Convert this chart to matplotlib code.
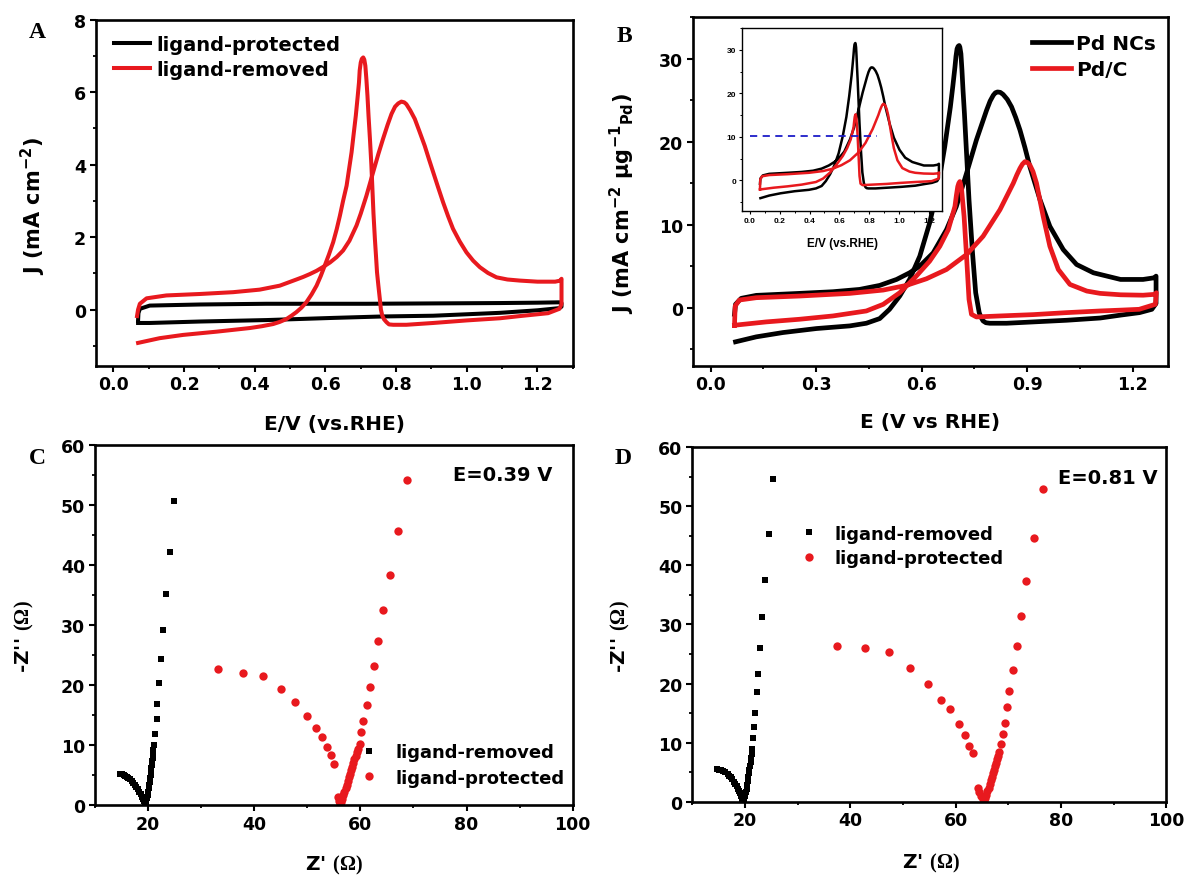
import matplotlib
matplotlib.use('Agg')
import matplotlib.pyplot as plt
from matplotlib.ticker import MultipleLocator, FormatStrFormatter


plt.rcParams['font.family'] = ['DejaVu Sans']
plt.rcParams['font.weight'] = 'bold'
plt.rcParams['axes.labelweight'] = 'bold'
plt.rcParams['mathtext.default'] = 'regular'
plt.rcParams['mathtext.fontset'] = 'custom'
plt.rcParams['mathtext.rm'] = 'Liberation Serif'
plt.rcParams['axes.linewidth'] = 1.9

RED = '#e8191e'

# ---- A: CV, ligand-protected vs ligand-removed (mA cm-2) ----
a_prot_E = [0.070, 0.071, 0.075, 0.103, 0.245, 0.433, 0.716, 0.905, 1.094, 1.200, 1.262, 1.268,
            1.268, 1.262, 1.200, 1.094, 0.905, 0.763, 0.622, 0.433, 0.245, 0.103, 0.070]
a_prot_J = [-0.30, -0.10, 0.02, 0.11, 0.14, 0.16, 0.16, 0.17, 0.18, 0.19, 0.20, 0.18,
            0.08, 0.04, -0.02, -0.09, -0.17, -0.19, -0.23, -0.29, -0.33, -0.37, -0.37]

a_rem_E = [0.067, 0.070, 0.075, 0.094, 0.150, 0.245, 0.339, 0.414, 0.471, 0.518, 0.537, 0.556,
           0.575, 0.594, 0.613, 0.632, 0.650, 0.668, 0.688, 0.700, 0.716, 0.735, 0.750, 0.763,
           0.776, 0.787, 0.797, 0.806, 0.815, 0.823, 0.829, 0.840, 0.853, 0.866, 0.881, 0.893,
           0.905, 0.918, 0.933, 0.947, 0.961, 0.980, 0.999, 1.018, 1.037, 1.060, 1.084, 1.115,
           1.150, 1.200, 1.250, 1.265, 1.268, 1.268, 1.262, 1.230, 1.150, 1.094, 0.999, 0.905,
           0.829, 0.792, 0.780, 0.773, 0.766, 0.761, 0.757, 0.754, 0.750, 0.746, 0.743, 0.740,
           0.736, 0.733, 0.730, 0.726, 0.722, 0.719, 0.716, 0.713, 0.710, 0.707, 0.703, 0.700,
           0.697, 0.695, 0.691, 0.686, 0.680, 0.674, 0.667, 0.660, 0.650, 0.641, 0.632, 0.622,
           0.610, 0.598, 0.587, 0.575, 0.561, 0.546, 0.532, 0.518, 0.504, 0.490, 0.471, 0.452,
           0.420, 0.386, 0.292, 0.197, 0.131, 0.070]
a_rem_J = [-0.18, 0.00, 0.16, 0.31, 0.39, 0.43, 0.48, 0.55, 0.66, 0.83, 0.90, 0.98,
           1.07, 1.18, 1.30, 1.45, 1.63, 1.90, 2.32, 2.65, 3.14, 3.79, 4.30, 4.71,
           5.10, 5.40, 5.60, 5.69, 5.74, 5.72, 5.67, 5.50, 5.26, 4.92, 4.52, 4.15,
           3.79, 3.40, 2.96, 2.58, 2.23, 1.88, 1.58, 1.35, 1.17, 1.01, 0.89, 0.83,
           0.80, 0.77, 0.77, 0.80, 0.85, 0.15, 0.02, -0.10, -0.18, -0.24, -0.30, -0.37,
           -0.42, -0.42, -0.41, -0.35, -0.27, -0.17, 0.00, 0.29, 0.65, 1.03, 1.50, 1.95,
           2.65, 3.33, 4.00, 4.71, 5.35, 5.90, 6.35, 6.73, 6.90, 6.96, 6.92, 6.82,
           6.60, 6.27, 5.85, 5.35, 4.85, 4.34, 3.88, 3.42, 3.00, 2.59, 2.22, 1.86,
           1.52, 1.21, 0.93, 0.66, 0.42, 0.20, 0.05, -0.07, -0.17, -0.26, -0.34, -0.40,
           -0.46, -0.51, -0.61, -0.70, -0.79, -0.92]

# ---- B: CV, Pd NCs vs Pd/C (mA cm-2 ug-1 Pd) ----
b_nc_E = [0.068, 0.071, 0.087, 0.130, 0.253, 0.348, 0.424, 0.481, 0.529, 0.566, 0.595, 0.633,
          0.671, 0.699, 0.728, 0.756, 0.785, 0.795, 0.804, 0.810, 0.816, 0.824, 0.832, 0.844,
          0.856, 0.868, 0.880, 0.894, 0.908, 0.937, 0.965, 1.003, 1.041, 1.089, 1.166, 1.230,
          1.262, 1.267, 1.267, 1.255, 1.220, 1.166, 1.108, 1.013, 0.918, 0.842, 0.794, 0.783,
          0.775, 0.769, 0.764, 0.754, 0.745, 0.735, 0.726, 0.722, 0.718, 0.715, 0.712, 0.709,
          0.707, 0.704, 0.701, 0.698, 0.695, 0.689, 0.682, 0.666, 0.647, 0.623, 0.595, 0.566,
          0.538, 0.509, 0.481, 0.443, 0.396, 0.301, 0.206, 0.130, 0.071]
b_nc_J = [-0.8, 0.4, 1.12, 1.48, 1.72, 1.92, 2.2, 2.68, 3.4, 4.2, 5.0, 6.6,
          9.4, 12.2, 16.2, 20.2, 23.8, 24.9, 25.6, 25.9, 26.0, 25.95, 25.7, 25.1,
          24.2, 22.9, 21.4, 19.3, 17.0, 13.0, 9.8, 7.0, 5.2, 4.2, 3.4, 3.4,
          3.6, 3.8, 0.5, -0.2, -0.6, -0.9, -1.25, -1.52, -1.72, -1.88, -1.88, -1.82,
          -1.6, -1.15, -0.6, 1.8, 6.6, 13.0, 20.2, 23.4, 26.2, 28.6, 30.6, 31.4,
          31.6, 31.5, 31.2, 30.3, 29.0, 26.7, 24.2, 19.4, 14.6, 10.2, 6.2, 3.4,
          1.4, -0.2, -1.32, -1.88, -2.2, -2.52, -3.0, -3.52, -4.12]

b_pdc_E = [0.068, 0.070, 0.082, 0.130, 0.253, 0.396, 0.491, 0.557, 0.614, 0.671, 0.728, 0.775,
           0.823, 0.861, 0.871, 0.880, 0.887, 0.894, 0.901, 0.908, 0.917, 0.927, 0.936, 0.946,
           0.965, 0.989, 1.022, 1.070, 1.108, 1.166, 1.230, 1.262, 1.268, 1.265, 1.219, 1.166,
           1.108, 1.013, 0.918, 0.823, 0.756, 0.742, 0.735, 0.728, 0.721, 0.714, 0.711, 0.709,
           0.706, 0.703, 0.699, 0.695, 0.676, 0.652, 0.623, 0.585, 0.538, 0.491, 0.443, 0.348,
           0.253, 0.158, 0.068]
b_pdc_J = [-2.12, 0.2, 0.92, 1.2, 1.4, 1.72, 2.12, 2.68, 3.48, 4.6, 6.4, 8.6,
           11.8, 15.0, 16.0, 16.8, 17.3, 17.6, 17.5, 17.2, 16.4, 15.0, 13.1, 11.0,
           7.4, 4.6, 2.8, 2.0, 1.72, 1.55, 1.5, 1.6, 1.8, 0.4, -0.2, -0.3,
           -0.4, -0.6, -0.84, -1.0, -1.12, -0.8, 1.0, 6.2, 11.0, 14.2, 14.9, 15.2,
           15.0, 14.6, 13.5, 12.2, 9.4, 7.4, 5.6, 3.8, 1.8, 0.4, -0.4, -1.0,
           -1.4, -1.72, -2.12]

ref_E = [0.0, 0.85]
ref_J = 10.1

# ---- C: Nyquist at E = 0.39 V ----
c_rem_x = [14.8, 15.1, 15.4, 15.7, 16.0, 16.3, 16.6, 16.9, 17.2, 17.5, 17.8, 18.1, 18.35, 18.6,
           18.8, 19.0, 19.2, 19.4, 19.55, 19.7, 19.8, 19.9, 20.0, 20.1, 20.2, 20.3, 20.4, 20.5,
           20.55, 20.65, 20.7, 20.8, 20.85, 20.95, 21.0, 21.15, 21.3, 21.6, 21.7, 22.0, 22.4, 22.8,
           23.3, 24.1, 24.8]
c_rem_y = [5.1, 5.1, 5.0, 4.9, 4.7, 4.5, 4.3, 4.0, 3.7, 3.4, 3.0, 2.6, 2.2, 1.8,
           1.4, 1.0, 0.6, 0.3, 0.1, 0.5, 1.1, 1.6, 2.2, 2.8, 3.4, 3.9, 4.5, 5.0,
           5.6, 6.2, 6.7, 7.3, 7.8, 8.5, 9.2, 10.0, 11.8, 14.4, 16.9, 20.3, 24.3, 29.2,
           35.1, 42.1, 50.6]
c_pro_x = [33.2, 37.9, 41.7, 45.0, 47.7, 49.9, 51.6, 52.8, 53.8, 54.4, 55.0, 55.8, 56.0, 56.2,
           56.4, 56.6, 56.8, 57.0, 57.2, 57.4, 57.6, 57.8, 58.0, 58.2, 58.4, 58.6, 58.85, 59.1,
           59.35, 59.6, 59.9, 60.2, 60.5, 61.2, 61.8, 62.5, 63.3, 64.3, 65.5, 67.0, 68.75]
c_pro_y = [22.6, 22.0, 21.5, 19.4, 17.1, 14.8, 12.9, 11.4, 9.7, 8.4, 6.9, 1.3, 0.7, 0.3,
           0.5, 1.0, 1.6, 2.2, 2.8, 3.4, 4.0, 4.6, 5.2, 5.8, 6.4, 7.0, 7.6, 8.2,
           8.8, 9.3, 10.2, 12.1, 14.0, 16.6, 19.6, 23.1, 27.4, 32.5, 38.4, 45.7, 54.2]

# ---- D: Nyquist at E = 0.81 V ----
d_rem_x = [14.7, 15.1, 15.5, 15.9, 16.3, 16.7, 17.0, 17.3, 17.6, 17.9, 18.2, 18.5, 18.7, 18.9,
           19.1, 19.3, 19.45, 19.6, 19.9, 20.05, 20.15, 20.3, 20.4, 20.5, 20.6, 20.75, 20.85, 20.95,
           21.05, 21.15, 21.25, 21.35, 21.5, 21.7, 21.95, 22.2, 22.5, 22.9, 23.3, 23.8, 24.5, 25.4]
d_rem_y = [5.5, 5.4, 5.3, 5.2, 5.0, 4.7, 4.4, 4.1, 3.8, 3.4, 3.0, 2.6, 2.2, 1.8,
           1.4, 0.9, 0.5, 0.2, 0.4, 1.0, 1.6, 2.2, 2.8, 3.5, 4.1, 4.8, 5.4, 6.1,
           6.7, 7.4, 8.1, 8.9, 10.7, 12.6, 15.0, 18.5, 21.7, 26.1, 31.3, 37.6, 45.3, 54.6]
d_pro_x = [37.5, 42.85, 47.4, 51.4, 54.7, 57.2, 59.0, 60.6, 61.7, 62.6, 63.3, 64.2, 64.5, 64.8,
           65.1, 65.4, 65.6, 65.8, 66.0, 66.25, 66.45, 66.65, 66.85, 67.05, 67.25, 67.45, 67.65, 67.85,
           68.05, 68.3, 68.65, 68.9, 69.4, 69.8, 70.2, 70.9, 71.6, 72.4, 73.4, 74.8, 76.5]
d_pro_y = [26.4, 26.0, 25.4, 22.6, 20.0, 17.3, 15.7, 13.1, 11.3, 9.5, 8.2, 2.3, 1.6, 1.0,
           0.4, 0.3, 0.6, 1.2, 1.8, 2.4, 3.0, 3.6, 4.2, 4.8, 5.4, 6.0, 6.6, 7.2,
           7.8, 8.4, 9.8, 11.5, 13.3, 16.1, 18.7, 22.3, 26.4, 31.4, 37.4, 44.6, 53.0]


def style_axis(ax, xmaj, xmin, ymaj, ymin, size=12.5):
    ax.xaxis.set_major_locator(MultipleLocator(xmaj))
    ax.xaxis.set_minor_locator(MultipleLocator(xmin))
    ax.yaxis.set_major_locator(MultipleLocator(ymaj))
    ax.yaxis.set_minor_locator(MultipleLocator(ymin))
    ax.tick_params(which='major', direction='out', length=4, width=1.5,
                   labelsize=size, pad=3)
    ax.tick_params(which='minor', direction='out', length=2.2, width=1.3)
    ax.tick_params(top=False, right=False)


def legend_at(ax, x, y, size, hlen, hpad, lspace):
    ax.legend(loc='upper left', bbox_to_anchor=(x, y), frameon=False, fontsize=size,
              handlelength=hlen, handletextpad=hpad, labelspacing=lspace,
              borderpad=0, borderaxespad=0)


fig = plt.figure(figsize=(11.84, 8.79), dpi=100)

# panel A
axA = fig.add_axes([0.0808, 0.5828, 0.4030, 0.3936])
axA.plot(a_prot_E, a_prot_J, color='black', lw=2.9, solid_joinstyle='round', label='ligand-protected')
axA.plot(a_rem_E, a_rem_J, color=RED, lw=2.9, solid_joinstyle='round', label='ligand-removed')
axA.set_xlim(-0.05, 1.30)
axA.set_ylim(-1.55, 8)
style_axis(axA, 0.2, 0.1, 2, 1)
axA.xaxis.set_major_formatter(FormatStrFormatter('%.1f'))
axA.set_xlabel('E/V (vs.RHE)', fontsize=14.5)
axA.set_ylabel('J (mA cm$^{-2}$)', fontsize=15)
axA.xaxis.set_label_coords(0.5, -0.14)
axA.yaxis.set_label_coords(-0.10, 0.464)
legend_at(axA, 0.038, 0.957, 14, 1.85, 0.36, 0.33)

# panel B
axB = fig.add_axes([0.5853, 0.5828, 0.4009, 0.3964])
axB.plot(b_nc_E, b_nc_J, color='black', lw=3.4, solid_joinstyle='round', label='Pd NCs')
axB.plot(b_pdc_E, b_pdc_J, color=RED, lw=3.4, solid_joinstyle='round', label='Pd/C')
axB.set_xlim(-0.05, 1.30)
axB.set_ylim(-7, 35)
style_axis(axB, 0.3, 0.15, 10, 5)
axB.xaxis.set_major_formatter(FormatStrFormatter('%.1f'))
axB.set_xlabel('E (V vs RHE)', fontsize=14.5)
axB.set_ylabel('J (mA cm$^{-2}$ μg$^{-1}$$_{Pd}$)', fontsize=15)
axB.xaxis.set_label_coords(0.5, -0.133)
axB.yaxis.set_label_coords(-0.118, 0.467)
legend_at(axB, 0.714, 0.951, 14.5, 1.94, 0.25, 0.32)

# inset of B
axI = fig.add_axes([0.6270, 0.7592, 0.1689, 0.2075])
axI.plot(b_nc_E, b_nc_J, color='black', lw=1.8, solid_joinstyle='round')
axI.plot(b_pdc_E, b_pdc_J, color=RED, lw=1.8, solid_joinstyle='round')
axI.plot(ref_E, [ref_J, ref_J], color='#1c1cc8', lw=1.3, ls=(0, (4, 3)))
axI.set_xlim(-0.05, 1.29)
axI.set_ylim(-7, 35)
for sp in axI.spines.values():
    sp.set_linewidth(1.0)
axI.xaxis.set_major_locator(MultipleLocator(0.2))
axI.xaxis.set_minor_locator(MultipleLocator(0.1))
axI.yaxis.set_major_locator(MultipleLocator(10))
axI.yaxis.set_minor_locator(MultipleLocator(5))
axI.xaxis.set_major_formatter(FormatStrFormatter('%.1f'))
axI.tick_params(which='major', direction='out', length=2.5, width=0.8, pad=2)
axI.tick_params(which='minor', direction='out', length=1.5, width=0.7)
for t in axI.get_xticklabels() + axI.get_yticklabels():
    t.set_fontfamily('Liberation Sans')
    t.set_fontsize(6)
axI.set_xlabel('E/V (vs.RHE)', fontsize=8.5, family='Liberation Sans')
axI.xaxis.set_label_coords(0.5, -0.144)

# panel C
axC = fig.add_axes([0.0802, 0.0830, 0.4035, 0.4096])
axC.plot(c_rem_x, c_rem_y, 's', color='black', ms=4.8, mew=0, label='ligand-removed')
axC.plot(c_pro_x, c_pro_y, 'o', color=RED, ms=6, mew=0, label='ligand-protected')
axC.set_xlim(10, 100)
axC.set_ylim(0, 60)
style_axis(axC, 20, 10, 10, 5)
axC.set_xlabel(r"Z' $\mathrm{(\Omega)}$", fontsize=14.5)
axC.set_ylabel(r"-Z'' $\mathrm{(\Omega)}$", fontsize=14.5)
axC.xaxis.set_label_coords(0.5, -0.132)
axC.yaxis.set_label_coords(-0.123, 0.47)
axC.text(0.958, 0.919, 'E=0.39 V', transform=axC.transAxes, ha='right', va='center', fontsize=14)
legend_at(axC, 0.555, 0.171, 13, 1.0, 0.98, 0.4)

# panel D
axD = fig.add_axes([0.5847, 0.0868, 0.4005, 0.4032])
axD.plot(d_rem_x, d_rem_y, 's', color='black', ms=4.8, mew=0, label='ligand-removed')
axD.plot(d_pro_x, d_pro_y, 'o', color=RED, ms=6, mew=0, label='ligand-protected')
axD.set_xlim(10, 100)
axD.set_ylim(0, 60)
style_axis(axD, 20, 10, 10, 5)
axD.set_xlabel(r"Z' $\mathrm{(\Omega)}$", fontsize=14.5)
axD.set_ylabel(r"-Z'' $\mathrm{(\Omega)}$", fontsize=14.5)
axD.xaxis.set_label_coords(0.503, -0.138)
axD.yaxis.set_label_coords(-0.128, 0.47)
axD.text(0.982, 0.916, 'E=0.81 V', transform=axD.transAxes, ha='right', va='center', fontsize=14)
legend_at(axD, 0.227, 0.782, 13, 1.0, 0.91, 0.35)

# panel letters
for lab, x, y in [('A', 0.0245, 0.975), ('B', 0.5207, 0.970), ('C', 0.0242, 0.490), ('D', 0.519, 0.490)]:
    fig.text(x, y, lab, family='Liberation Serif', fontweight='bold', fontsize=17, ha='left', va='top')

fig.savefig('out.png', dpi=100)
